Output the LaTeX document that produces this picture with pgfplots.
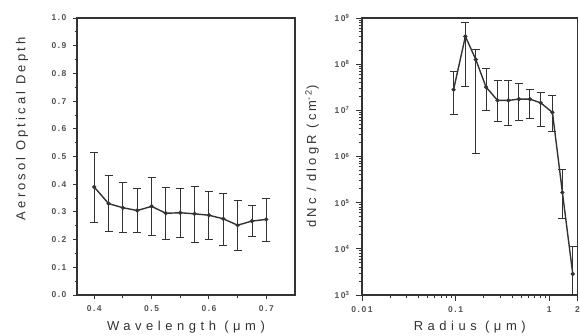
\documentclass[border=0pt]{standalone}
\usepackage{fontspec}
\setmainfont{Liberation Sans}
\newfontfamily\lab[LetterSpace=24]{Liberation Sans}
\newfontfamily\labx[LetterSpace=35]{Liberation Sans}
\newfontfamily\tickf[LetterSpace=18]{Liberation Sans}
\usepackage{pgfplots}
\usepackage{pgfplotstable}
\pgfplotsset{compat=1.18}
\definecolor{ink}{HTML}{333333}
\pgfplotstableread{
x     y      hi     lo
0.400 0.390  0.514  0.263
0.425 0.330  0.430  0.229
0.450 0.315  0.406  0.227
0.475 0.305  0.385  0.225
0.500 0.320  0.424  0.216
0.525 0.295  0.388  0.199
0.550 0.297  0.383  0.208
0.575 0.293  0.392  0.190
0.600 0.288  0.373  0.199
0.625 0.275  0.368  0.178
0.650 0.252  0.343  0.160
0.675 0.267  0.322  0.211
0.700 0.273  0.348  0.194
}\aod
\pgfplotstableread{
x      y        hi       lo
0.095  2.8e7    6.9e7    8.0e6
0.127  4.0e8    8.1e8    3.3e7
0.164  1.26e8   2.1e8    1.17e6
0.211  3.2e7    7.9e7    1.0e7
0.280  1.64e7   4.4e7    5.8e6
0.366  1.64e7   4.4e7    4.6e6
0.473  1.75e7   3.8e7    6.0e6
0.620  1.75e7   2.8e7    6.8e6
0.810  1.45e7   2.5e7    4.4e6
1.080  9.0e6    2.1e7    3.5e6
1.380  1.66e5   5.3e5    4.6e4
1.780  2.85e3   1.15e4   5.0e2
}\dist
\pgfplotsset{
  base/.style={
    scale only axis, anchor=south west,
    axis line style={ink, line width=1.1pt},
    tick style={ink, line width=0.9pt},
    major tick length=4pt, minor tick length=2.5pt,
    tick align=outside, xtick pos=bottom, ytick pos=left,
    tick label style={font=\tickf\bfseries\fontsize{8.5}{9}\selectfont, text=ink!85},
    xticklabel style={yshift=-3pt},
    yticklabel style={xshift=-3pt},
    /pgf/number format/assume math mode=true,
    ylabel style={font=\lab\fontsize{13}{15}\selectfont, text=ink},
    xlabel style={font=\labx\fontsize{13}{15}\selectfont, text=ink},
  },
  dat/.style={ink, line width=1.4pt, mark=*, mark size=1.3pt,
    error bars/.cd, y dir=both, y explicit,
    error bar style={ink, line width=0.9pt},
    error mark options={ink, rotate=90, mark size=4pt, line width=0.9pt}},
}
\begin{document}
\begin{tikzpicture}[x=1pt,y=1pt]
\useasboundingbox (0,0) rectangle (580,335);
\begin{axis}[base, at={(77pt,40pt)}, width=218pt, height=277pt,
  xmin=0.37, xmax=0.75, ymin=0, ymax=1,
  xtick={0.4,0.5,0.6,0.7}, minor x tick num=1,
  ytick={0,0.1,...,1.0}, minor y tick num=1,
  xticklabel style={/pgf/number format/.cd, fixed, precision=1, zerofill},
  yticklabel style={/pgf/number format/.cd, fixed, precision=1, zerofill},
  xlabel={Wavelength (μm)}, ylabel={Aerosol Optical Depth},
  xlabel style={at={(axis description cs:0.5,-0.115)}, anchor=center},
  ylabel style={at={(axis description cs:-0.252,0.6)}, anchor=center},
]
\addplot+[dat] table[x=x, y=y, y error plus expr=\thisrow{hi}-\thisrow{y}, y error minus expr=\thisrow{y}-\thisrow{lo}] {\aod};
\end{axis}
\begin{axis}[base, at={(362pt,40pt)}, width=215.5pt, height=277pt,
  xmode=log, ymode=log,
  major tick length=6pt, minor tick length=3.5pt,
  xmin=0.01, xmax=2, ymin=1e3, ymax=1e9,
  xtick={0.01,0.1,1,2}, xticklabels={0.01,0.1,1,2},
  minor xtick={0.02,0.03,0.04,0.05,0.06,0.07,0.08,0.09,0.2,0.3,0.4,0.5,0.6,0.7,0.8,0.9},
  ytick={1e3,1e4,1e5,1e6,1e7,1e8,1e9},
  minor ytick={2e3,3e3,4e3,5e3,6e3,7e3,8e3,9e3,
               2e4,3e4,4e4,5e4,6e4,7e4,8e4,9e4,
               2e5,3e5,4e5,5e5,6e5,7e5,8e5,9e5,
               2e6,3e6,4e6,5e6,6e6,7e6,8e6,9e6,
               2e7,3e7,4e7,5e7,6e7,7e7,8e7,9e7,
               2e8,3e8,4e8,5e8,6e8,7e8,8e8,9e8},
  yticklabels={10\textsuperscript{3},10\textsuperscript{4},10\textsuperscript{5},10\textsuperscript{6},10\textsuperscript{7},10\textsuperscript{8},10\textsuperscript{9}},
  xticklabel style={yshift=1pt},
  xlabel={Radius (μm)}, ylabel={dNc / dlogR (cm\textsuperscript{-2})},
  xlabel style={at={(axis description cs:0.5,-0.115)}, anchor=center},
  ylabel style={at={(axis description cs:-0.232,0.5)}, anchor=center},
]
\addplot+[dat] table[x=x, y=y, y error plus expr=\thisrow{hi}-\thisrow{y}, y error minus expr=\thisrow{y}-\thisrow{lo}] {\dist};
\end{axis}
\end{tikzpicture}
\end{document}
